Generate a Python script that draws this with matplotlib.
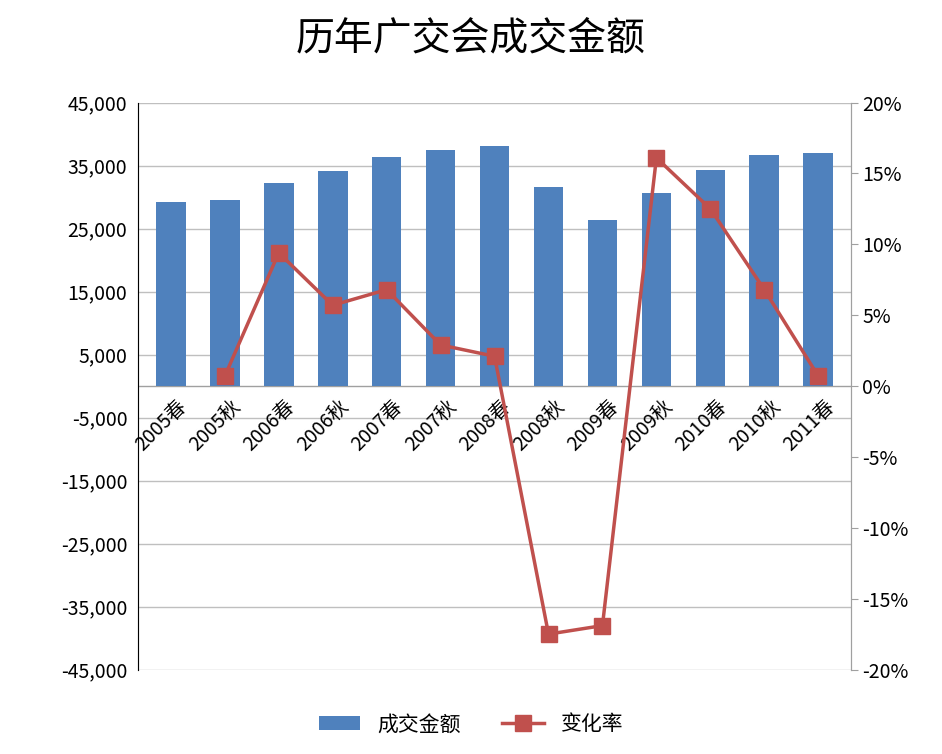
import matplotlib
matplotlib.use("Agg")
import matplotlib.pyplot as plt
import numpy as np

plt.rcParams['font.family'] = ['Noto Sans CJK SC', 'DejaVu Sans']

categories = ['2005春', '2005秋', '2006春', '2006秋', '2007春', '2007秋', '2008春',
              '2008秋', '2009春', '2009秋', '2010春', '2010秋', '2011春']
amount = [29200, 29500, 32200, 34100, 36300, 37400, 38100,
          31600, 26300, 30600, 34300, 36700, 37000]
rate = [None, 0.7, 9.4, 5.7, 6.8, 2.9, 2.1, -17.5, -16.9, 16.1, 12.5, 6.8, 0.7]

fig = plt.figure(figsize=(9.42, 7.54), dpi=100)
ax = fig.add_axes([0.147, 0.112, 0.756, 0.752])
x = np.arange(len(categories))
bars = ax.bar(x, amount, width=0.55, color='#4F81BD', label='成交金额', zorder=3)
ax.set_ylim(-45000, 45000)
ax.set_xlim(-0.6, len(categories) - 0.4)
ax.set_yticks(np.arange(-45000, 45001, 10000))
ax.set_yticklabels([f'{v:,}' for v in range(-45000, 45001, 10000)], fontsize=14)
ax.grid(axis='y', color='#BFBFBF', lw=1, zorder=0)
ax.set_xticks([])
for s in ['top']:
    ax.spines[s].set_visible(False)
for s in ['left', 'right', 'bottom']:
    ax.spines[s].set_color('#A0A0A0')
ax.spines['bottom'].set_visible(False)
ax.tick_params(axis='y', length=0, pad=8)
ax.axhline(0, color='#A0A0A0', lw=1, zorder=2)
for xi, c in zip(x, categories):
    ax.text(xi + 0.1, -1500, c, rotation=45, ha='right', va='top', fontsize=14,
            rotation_mode='anchor', zorder=4)

ax2 = ax.twinx()
rx = [xi for xi, r in zip(x, rate) if r is not None]
ry = [r for r in rate if r is not None]
line, = ax2.plot(rx, ry, color='#C0504D', lw=2.5, marker='s', markersize=11,
                 label='变化率', zorder=5)
ax2.set_ylim(-20, 20)
ax2.set_yticks(np.arange(-20, 21, 5))
ax2.set_yticklabels([f'{v}%' for v in range(-20, 21, 5)], fontsize=14)
ax2.tick_params(axis='y', length=5, color='#A0A0A0')
ax2.spines['top'].set_visible(False)
ax2.spines['bottom'].set_visible(False)
ax2.spines['right'].set_color('#A0A0A0')

fig.suptitle('历年广交会成交金额', fontsize=28, y=0.975)
fig.legend([bars, line], ['成交金额', '变化率'], loc='lower center', ncol=2,
           frameon=False, fontsize=15, bbox_to_anchor=(0.5, 0.0))
fig.savefig('out.png')
